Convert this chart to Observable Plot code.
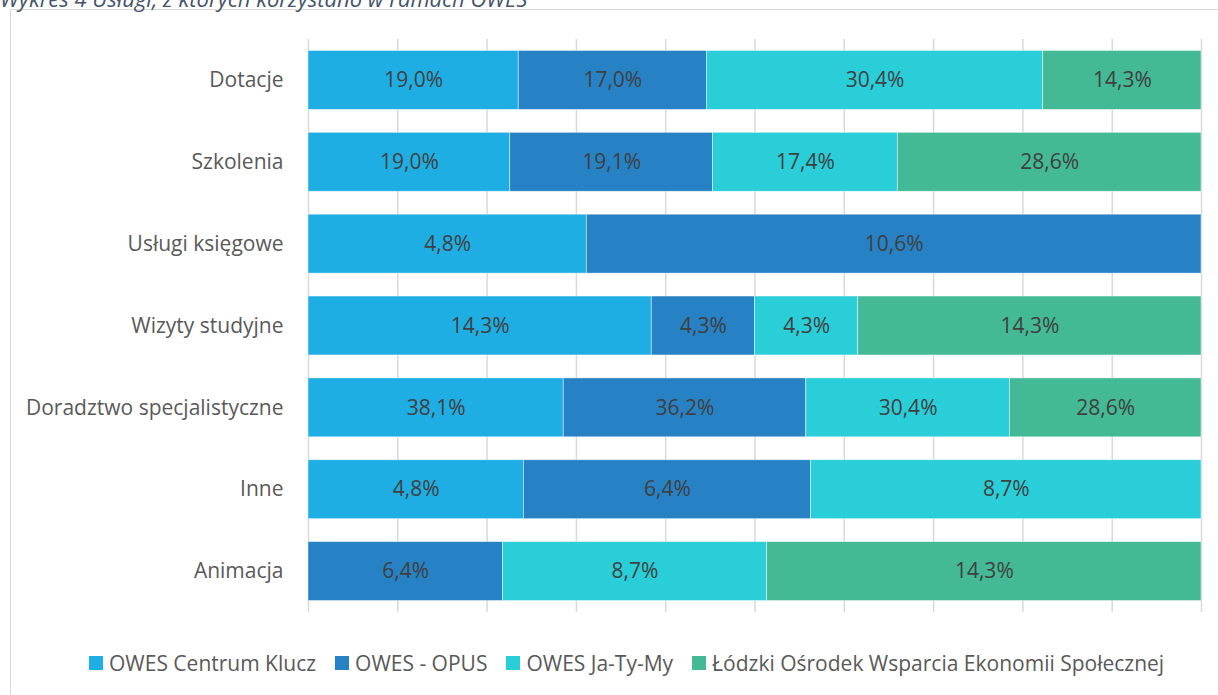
<!DOCTYPE html>
<html><head><meta charset="utf-8">
<script src="https://cdn.jsdelivr.net/npm/d3@7"></script>
<script src="https://cdn.jsdelivr.net/npm/@observablehq/plot@0.6"></script>
<style>
body{margin:0;background:#fff;overflow:hidden;font-family:"Open Sans",sans-serif;}
#wrap{position:relative;width:1218px;height:695px;overflow:hidden;}
#title{position:absolute;left:0px;top:-14px;font-style:italic;font-size:22px;line-height:24px;color:#44546A;white-space:nowrap;}
#frame{position:absolute;left:10px;top:9px;width:1300px;height:800px;border:1px solid #d9d9d9;box-sizing:border-box;}
#chart{position:absolute;left:0;top:0;}
#legend{position:absolute;top:651px;left:89px;display:flex;align-items:center;font-size:21px;line-height:24px;color:#595959;white-space:nowrap;}
#legend .item{display:flex;align-items:center;margin-right:19px;}
#legend .sw{width:14px;height:14px;margin-right:6px;}
</style></head>
<body>
<div id="wrap">
  <div id="frame"></div>
  <div id="title">Wykres 4 Usługi, z których korzystano w ramach OWES</div>
  <div id="chart"></div>
  <div id="legend"></div>
</div>
<script>
const categories = ["Dotacje","Szkolenia","Usługi księgowe","Wizyty studyjne","Doradztwo specjalistyczne","Inne","Animacja"];
const series = ["OWES Centrum Klucz","OWES - OPUS","OWES Ja-Ty-My","Łódzki Ośrodek Wsparcia Ekonomii Społecznej"];
const centrumKlucz = [19.0,19.0,4.8,14.3,38.1,4.8,0];
const opus = [17.0,19.1,10.6,4.3,36.2,6.4,6.4];
const jaTyMy = [30.4,17.4,0,4.3,30.4,8.7,8.7];
const lodzki = [14.3,28.6,0,14.3,28.6,0,14.3];
const colors = ["#1FAEE3","#2782C5","#29CED8","#43B995"];
const gridTicks = [0,0.1,0.2,0.3,0.4,0.5,0.6,0.7,0.8,0.9,1];

const seriesValues = [centrumKlucz, opus, jaTyMy, lodzki];
const rows = [];
categories.forEach((c, i) => {
  series.forEach((s, j) => {
    const v = seriesValues[j][i];
    if (v > 0) rows.push({category: c, series: s, value: v});
  });
});
const fmt = v => v.toFixed(1).replace(".", ",") + "%";

const chart = Plot.plot({
  width: 1218,
  height: 640,
  marginLeft: 308,
  marginRight: 17,
  marginTop: 39,
  marginBottom: 28,
  style: {fontFamily: "Open Sans", fontSize: "21px", color: "#595959", background: "transparent"},
  x: {domain: [0, 1], axis: null},
  y: {domain: categories, paddingInner: 0.28, paddingOuter: 0.14, round: false, axis: null, label: null},
  color: {domain: series, range: colors},
  marks: [
    Plot.ruleX(gridTicks, {stroke: "#d9d9d9", strokeWidth: 1.5}),
    Plot.barX(rows, Plot.stackX({offset: "normalize", x: "value", y: "category", fill: "series", stroke: "white", strokeWidth: 0.75, strokeOpacity: 0.6})),
    Plot.textX(rows, Plot.stackX({offset: "normalize", x: "value", y: "category", z: "series", text: d => fmt(d.value), fill: "#404040", fontSize: 21})),
    Plot.axisY({tickSize: 0, tickPadding: 25, fontSize: 21, fill: "#595959", label: null})
  ]
});
document.getElementById("chart").appendChild(chart);

const legend = document.getElementById("legend");
series.forEach((s, i) => {
  const item = document.createElement("div");
  item.className = "item";
  const sw = document.createElement("span");
  sw.className = "sw";
  sw.style.background = colors[i];
  const t = document.createElement("span");
  t.textContent = s;
  item.appendChild(sw);
  item.appendChild(t);
  legend.appendChild(item);
});
</script>
</body></html>
